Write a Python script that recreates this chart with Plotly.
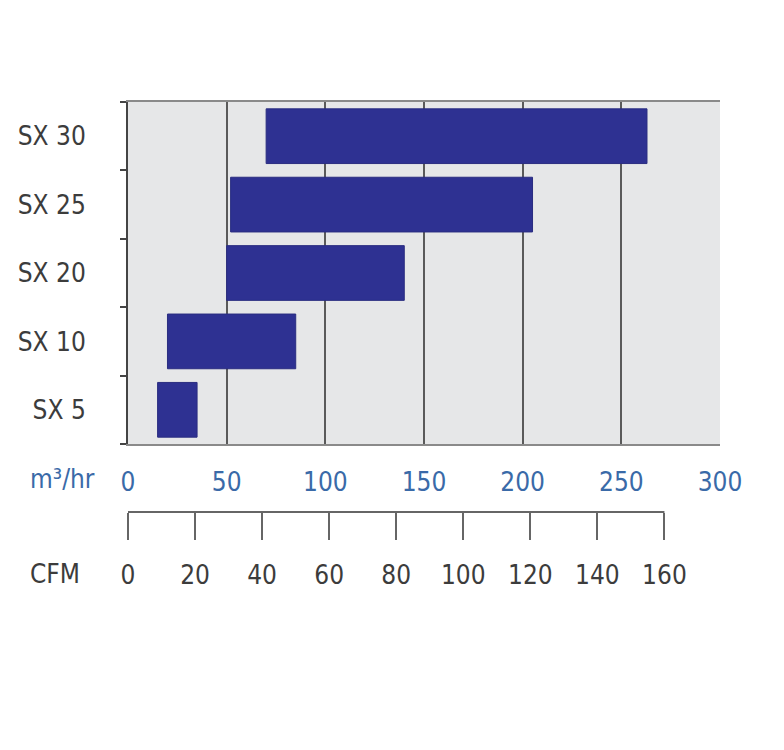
import plotly.graph_objects as go

models = ["SX 5", "SX 10", "SX 20", "SX 25", "SX 30"]
flow_min = [15, 20, 50, 52, 70]      # m3/hr
flow_max = [35, 85, 140, 205, 263]   # m3/hr
m3_ticks = [0, 50, 100, 150, 200, 250, 300]
cfm_ticks = [0, 20, 40, 60, 80, 100, 120, 140, 160]
M3_PER_CFM = 1.699

FONT = "Liberation Sans Narrow, Arial Narrow, DejaVu Sans Condensed, sans-serif"
DARK = "#3c3c3c"
BLUE = "#3a6aa8"

OFF = 8  # page body margin
W, H = 784 - OFF, 750 - OFF
ML = 128 - OFF
MR = W - (720 - OFF)
MT = 102 - OFF
MB = 150
plot_h = H - MT - MB
plot_w = W - ML - MR

def py(pix):
    return (H - MB - (pix - OFF)) / plot_h

def px(pix):
    return ((pix - OFF) - ML) / plot_w

fig = go.Figure()
fig.add_trace(go.Bar(
    y=models,
    x=[b - a for a, b in zip(flow_min, flow_max)],
    base=flow_min,
    orientation="h",
    width=0.8,
    marker=dict(color="#2e3192", line=dict(width=1, color="#2a2d80")),
    showlegend=False,
))
# invisible trace to activate the CFM axis
fig.add_trace(go.Scatter(x=[cfm_ticks[0], cfm_ticks[-1]], y=[models[0], models[0]],
                         xaxis="x2", mode="markers", marker=dict(opacity=0),
                         showlegend=False, hoverinfo="skip"))

fig.update_layout(
    width=W, height=H,
    margin=dict(l=ML, r=MR, t=MT, b=MB, autoexpand=False),
    paper_bgcolor="white",
    plot_bgcolor="#e6e7e8",
    font=dict(family=FONT, size=26, color=DARK),
    bargap=0.2,
    xaxis=dict(
        range=[0, 300], tickvals=m3_ticks, ticktext=[str(v) for v in m3_ticks],
        showgrid=True, gridcolor="#5a5a5a", gridwidth=2,
        showline=True, linecolor="#8a8a8a", linewidth=2, mirror=True,
        ticks="", zeroline=False, automargin=False,
        tickfont=dict(color=BLUE, size=26, family=FONT),
        ticklabelstandoff=14,
        anchor="y",
    ),
    yaxis=dict(
        domain=[py(444), 1],
        range=[-0.5, 4.5],
        categoryorder="array", categoryarray=models,
        tickson="boundaries", ticks="outside", ticklen=6, tickwidth=2, tickcolor="#444",
        showline=True, linecolor="#444", linewidth=2, mirror=False,
        showgrid=False, zeroline=False, automargin=False,
        tickfont=dict(color=DARK, size=26, family=FONT),
        ticklabelstandoff=35,
    ),
    xaxis2=dict(
        overlaying="x",
        range=[0, 300 / M3_PER_CFM],
        tickvals=cfm_ticks, ticktext=[str(v) for v in cfm_ticks],
        anchor="free", position=py(512), side="bottom",
        showline=False,
        ticks="outside", ticklen=27, tickwidth=2, tickcolor="#666",
        showgrid=False, zeroline=False, automargin=False,
        tickfont=dict(color=DARK, size=26, family=FONT),
        ticklabelstandoff=13,
    ),
    shapes=[
        dict(type="line", xref="x2", yref="paper",
             x0=cfm_ticks[0], x1=cfm_ticks[-1], y0=py(512), y1=py(512),
             line=dict(color="#666", width=2)),
    ],
    annotations=[
        dict(text="m³/hr", xref="paper", yref="paper", x=px(28), y=py(479),
             xanchor="left", yanchor="middle", showarrow=False,
             font=dict(color=BLUE, size=26, family=FONT)),
        dict(text="CFM", xref="paper", yref="paper", x=px(28), y=py(574),
             xanchor="left", yanchor="middle", showarrow=False,
             font=dict(color=DARK, size=26, family=FONT)),
    ],
)

fig.write_html("out.html")
